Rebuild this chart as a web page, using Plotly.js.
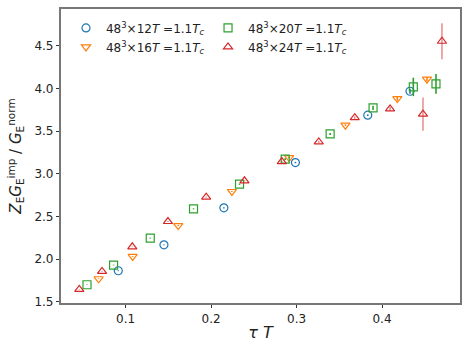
<!DOCTYPE html>
<html>
<head>
<meta charset="utf-8">
<script src="https://cdn.plot.ly/plotly-3.0.1.min.js"></script>
<style>html,body{margin:0;padding:0;background:#fff}#chart{width:469px;height:352px}</style>
</head>
<body>
<div id="chart"></div>
<script>
// tau*T and Z_E G_E^imp / G_E^norm, per lattice size
const x12 = [0.0915, 0.1449, 0.2150, 0.2987, 0.3833, 0.4327];
const y12 = [1.863, 2.167, 2.600, 3.131, 3.686, 3.967];
const e12 = [0.005, 0.005, 0.006, 0.008, 0.010, 0.030];

const x16 = [0.0685, 0.1083, 0.1616, 0.2244, 0.2913, 0.3572, 0.4179, 0.4526];
const y16 = [1.769, 2.031, 2.393, 2.792, 3.190, 3.569, 3.881, 4.108];
const e16 = [0.004, 0.005, 0.006, 0.007, 0.010, 0.010, 0.025, 0.025];

const x20 = [0.0549, 0.0860, 0.1289, 0.1795, 0.2333, 0.2867, 0.3393, 0.3895, 0.4366, 0.4631];
const y20 = [1.699, 1.930, 2.246, 2.589, 2.878, 3.171, 3.467, 3.772, 4.018, 4.053];
const e20 = [0.004, 0.004, 0.005, 0.006, 0.008, 0.010, 0.012, 0.025, 0.108, 0.115];

const x24 = [0.0459, 0.0725, 0.1079, 0.1496, 0.1943, 0.2391, 0.2828, 0.3260, 0.3681, 0.4094, 0.4479, 0.4701];
const y24 = [1.644, 1.855, 2.144, 2.440, 2.726, 2.917, 3.143, 3.373, 3.658, 3.760, 3.698, 4.553];
const e24 = [0.004, 0.004, 0.005, 0.006, 0.007, 0.008, 0.010, 0.012, 0.015, 0.025, 0.195, 0.210];

const names = [
  "48<sup>3</sup>×12<i>T</i> =1.1<i>T</i><sub><i>c</i></sub>",
  "48<sup>3</sup>×16<i>T</i> =1.1<i>T</i><sub><i>c</i></sub>",
  "48<sup>3</sup>×20<i>T</i> =1.1<i>T</i><sub><i>c</i></sub>",
  "48<sup>3</sup>×24<i>T</i> =1.1<i>T</i><sub><i>c</i></sub>"
];

function tr(x, y, e, name, color, ecolor, symbol, legend) {
  return {
    x: x, y: y, name: name, type: 'scatter', mode: 'markers',
    legend: legend,
    marker: {symbol: symbol, size: 8, color: color, line: {color: color, width: 1.2}},
    error_y: {type: 'data', array: e, visible: true, color: ecolor, thickness: 1.6, width: 0}
  };
}

const data = [
  tr(x12, y12, e12, names[0], '#1f77b4', '#1f77b4', 'circle-open', 'legend'),
  tr(x16, y16, e16, names[1], '#ff7f0e', '#ff7f0e', 'triangle-down-open', 'legend'),
  tr(x20, y20, e20, names[2], '#2ca02c', '#2ca02c', 'square-open', 'legend2'),
  tr(x24, y24, e24, names[3], '#d62728', 'rgba(214,39,40,0.5)', 'triangle-up-open', 'legend2')
];

const legendCommon = {
  bgcolor: 'rgba(0,0,0,0)', borderwidth: 0,
  font: {family: 'DejaVu Sans', size: 12, color: '#222'},
  yanchor: 'top', xanchor: 'left', tracegroupgap: 0, itemwidth: 30
};

const layout = {
  width: 469, height: 352,
  margin: {l: 61, r: 9, t: 9, b: 49},
  paper_bgcolor: '#fff', plot_bgcolor: '#fff',
  font: {family: 'DejaVu Sans', size: 12, color: '#222'},
  showlegend: true,
  legend: Object.assign({x: 0.0125, y: 0.985}, legendCommon),
  legend2: Object.assign({x: 0.3685, y: 0.985}, legendCommon),
  xaxis: {
    range: [0.0245, 0.4912],
    tickvals: [0.1, 0.2, 0.3, 0.4], ticktext: ['0.1', '0.2', '0.3', '0.4'],
    ticks: 'outside', ticklen: 3.5, tickwidth: 1, tickcolor: '#333',
    showline: true, linecolor: '#777', linewidth: 1.6, mirror: true,
    showgrid: false, zeroline: false,
    tickfont: {family: 'DejaVu Sans', size: 12, color: '#222'},
    title: {text: '<i>τ T</i>', font: {family: 'DejaVu Sans', size: 16, color: '#222'}, standoff: 2}
  },
  yaxis: {
    range: [1.485, 4.931],
    tickvals: [1.5, 2.0, 2.5, 3.0, 3.5, 4.0, 4.5], ticktext: ['1.5', '2.0', '2.5', '3.0', '3.5', '4.0', '4.5'],
    ticks: 'outside', ticklen: 3.5, tickwidth: 1, tickcolor: '#333',
    showline: true, linecolor: '#777', linewidth: 1.6, mirror: true,
    showgrid: false, zeroline: false,
    tickfont: {family: 'DejaVu Sans', size: 12, color: '#222'},
    title: {text: '<i>Z</i><sub>E</sub><i>G</i><sub>E</sub><sup>imp</sup> / <i>G</i><sub>E</sub><sup>norm</sup>', font: {family: 'DejaVu Sans', size: 15, color: '#222'}, standoff: 9}
  }
};

Plotly.newPlot('chart', data, layout, {displayModeBar: false, staticPlot: true});
</script>
</body>
</html>
